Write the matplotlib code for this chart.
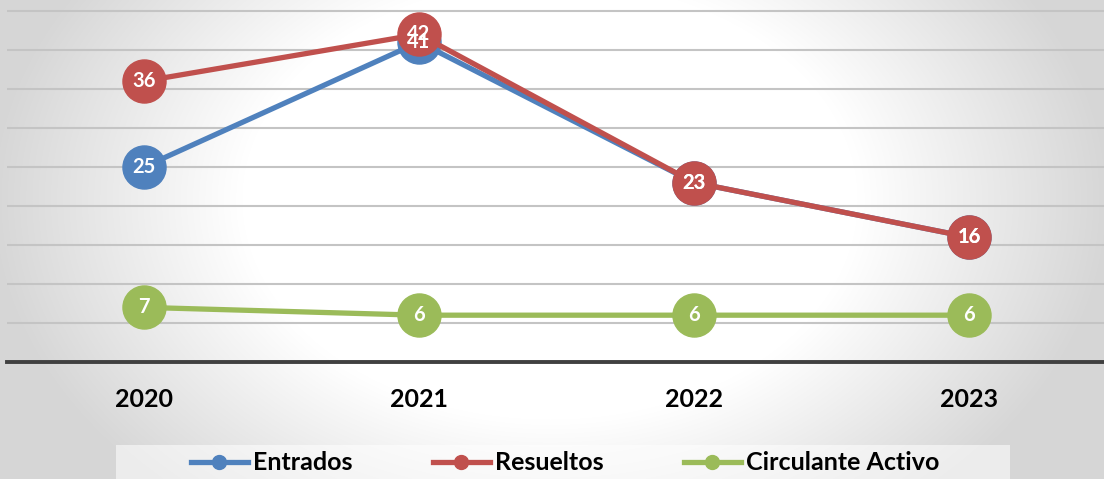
import numpy as np
import matplotlib
matplotlib.use("Agg")
import matplotlib.pyplot as plt
from matplotlib.lines import Line2D
from matplotlib.patches import Rectangle

plt.rcParams['font.family'] = ['Lato', 'DejaVu Sans']

years = ["2020", "2021", "2022", "2023"]
entrados = [25, 41, 23, 16]
resueltos = [36, 42, 23, 16]
circulante = [7, 6, 6, 6]
series_names = ["Entrados", "Resueltos", "Circulante Activo"]
colors = ["#4F81BD", "#C0504D", "#9BBB59"]

W, H = 1104, 479
fig = plt.figure(figsize=(W / 100, H / 100), dpi=100)

# background radial gradient
bg = fig.add_axes([0, 0, 1, 1], zorder=-10)
yy, xx = np.mgrid[0:H, 0:W]
d = np.sqrt(((xx - 550) / 560.0) ** 2 + ((yy - 200) / 400.0) ** 2)
t = np.clip((d - 0.55) / 0.45, 0, 1)
g = 1.0 - t * (1.0 - 0.84)
img = np.dstack([g, g, g])
bg.imshow(img, aspect='auto', extent=[0, 1, 0, 1], origin='upper')
bg.set_xlim(0, 1)
bg.set_ylim(0, 1)
bg.axis('off')

ax = fig.add_axes([6.5 / W, (H - 362) / H, 1100 / W, 362 / H])
ax.set_facecolor('none')
ax.patch.set_alpha(0)
x = np.arange(len(years))
ax.set_xlim(-0.5, len(years) - 0.5)
ax.set_ylim(0, 46.4)

for yv in range(5, 50, 5):
    ax.axhline(yv, color='#c4c4c4', lw=1.5, zorder=1)
ax.axhline(0, color='#404040', lw=2.8, zorder=2, clip_on=False)

all_series = [entrados, resueltos, circulante]
for vals, c in zip(all_series, colors):
    ax.plot(x, vals, color=c, lw=3.8, marker='o', markersize=31,
            markerfacecolor=c, markeredgecolor=c, zorder=3, clip_on=False)
for vals in all_series:
    for xi, v in zip(x, vals):
        ax.text(xi, v, str(v), color='white', fontsize=14.5, fontweight='bold',
                ha='center', va='center', zorder=5)

for s in ax.spines.values():
    s.set_visible(False)
ax.set_yticks([])
ax.set_xticks(x)
ax.set_xticklabels(years, fontsize=18, fontweight='bold', color='black')
ax.tick_params(axis='x', length=0, pad=19)

# legend box
fig.patches.append(Rectangle((116 / W, 0), (1010 - 116) / W, (H - 445) / H,
                             transform=fig.transFigure, facecolor='white',
                             alpha=0.55, edgecolor='none', zorder=-5))
handles = [Line2D([0], [0], color=c, lw=3.8, marker='o', markersize=10,
                  markerfacecolor=c, markeredgecolor=c) for c in colors]
leg = fig.legend(handles, series_names, loc='center', ncol=3,
                 bbox_to_anchor=(565 / W, 1 - 463 / H), frameon=False,
                 prop={'size': 18, 'weight': 'bold'}, handlelength=2.3,
                 handletextpad=0.2, columnspacing=3.2, borderaxespad=0)

fig.savefig("out.png", dpi=100)
